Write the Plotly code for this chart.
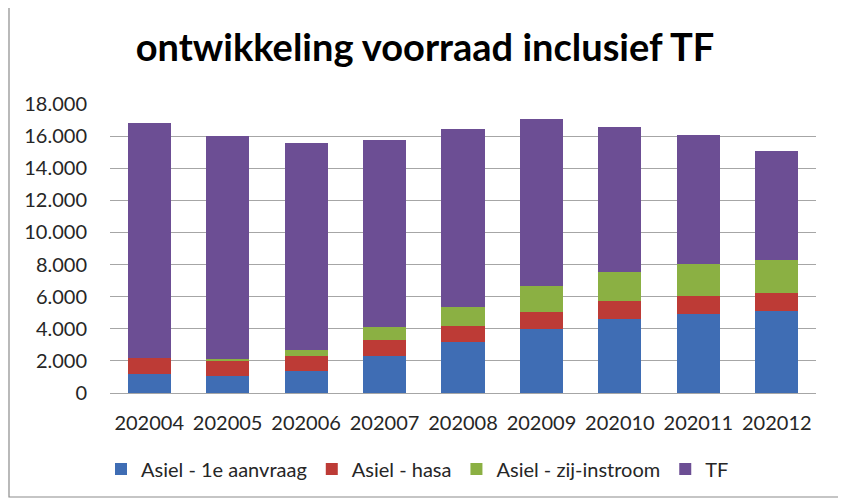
import plotly.graph_objects as go

categories = ["202004", "202005", "202006", "202007", "202008", "202009", "202010", "202011", "202012"]
asiel_1e = [1200, 1080, 1350, 2290, 3160, 3990, 4620, 4930, 5110]
asiel_hasa = [1000, 900, 980, 1000, 1020, 1080, 1080, 1100, 1120]
asiel_zij = [0, 150, 350, 790, 1200, 1600, 1810, 2000, 2080]
tf = [14600, 13880, 12910, 11680, 11040, 10370, 9040, 8020, 6760]

series = [
    ("Asiel - 1e aanvraag", asiel_1e, "#3F6DB4"),
    ("Asiel - hasa", asiel_hasa, "#BD3B36"),
    ("Asiel - zij-instroom", asiel_zij, "#8BB043"),
    ("TF", tf, "#6C4E94"),
]

fig = go.Figure()
for name, vals, col in series:
    fig.add_trace(go.Bar(x=categories, y=vals, name=name, marker=dict(color=col, line=dict(width=0))))

OFF = 8  # page body margin
W, H = 846 - OFF, 500 - OFF
L, T = 110 - OFF, 104 - OFF
R = W - (816 - OFF)
B = H - (393 - OFF)
pw, ph = W - L - R, H - T - B

def px(x):
    return (x - OFF - L) / pw

def py(y):
    return (H - B - (y - OFF)) / ph

fig.update_layout(
    width=W, height=H,
    margin=dict(l=L, r=R, t=T, b=B, autoexpand=False),
    barmode="stack", bargap=0.45,
    paper_bgcolor="white", plot_bgcolor="white",
    font=dict(family="Lato", size=20, color="#262626"),
    separators=",.",
    title=dict(text="<b>ontwikkeling voorraad inclusief TF</b>", x=px(425), xref="paper", xanchor="center",
               y=1 - (48 - OFF) / H, yanchor="middle", font=dict(family="Lato", size=38, color="#000000")),
    showlegend=True,
    legend=dict(orientation="h", x=px(101), xanchor="left", y=py(469), yanchor="middle",
                font=dict(size=20, color="#262626"), traceorder="normal", itemwidth=30),
    shapes=[dict(type="rect", xref="paper", yref="paper", x0=px(9), x1=px(840), y0=py(497), y1=py(7),
                 line=dict(color="#8c8c8c", width=1.2), fillcolor="rgba(0,0,0,0)", layer="below")],
)
fig.update_xaxes(showgrid=False, showline=False, ticks="", tickfont=dict(size=20), ticklabelstandoff=16)
fig.update_yaxes(range=[0, 18000], tickvals=list(range(0, 18001, 2000)), tickformat=",d",
                 showgrid=True, gridcolor="#a6a6a6", gridwidth=1.2, zeroline=True, zerolinecolor="#a6a6a6",
                 zerolinewidth=1.2, showline=False, ticks="", tickfont=dict(size=20), ticklabelstandoff=22)
fig.write_html("out.html")
